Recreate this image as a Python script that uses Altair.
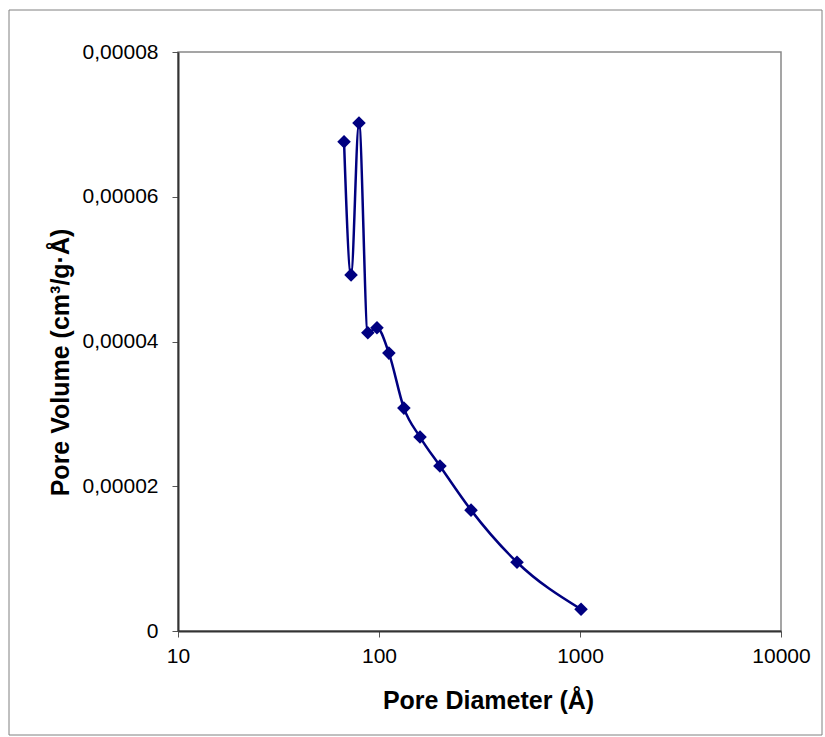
import altair as alt
import pandas as pd

# Pore size distribution data
pore_diameter = [67.0, 72.6, 79.5, 88.0, 97.7, 112.0, 133.0, 160.0, 201.0, 287.0, 486.0, 1012.0]
pore_volume = [6.76e-5, 4.92e-5, 7.02e-5, 4.12e-5, 4.19e-5, 3.84e-5, 3.08e-5, 2.68e-5,
               2.28e-5, 1.67e-5, 0.95e-5, 0.30e-5]

x_ticks = [10, 100, 1000, 10000]
y_ticks = [0, 0.00002, 0.00004, 0.00006, 0.00008]

df = pd.DataFrame({"d": pore_diameter, "v": pore_volume})

NAVY = "#000080"
FONT = "Liberation Sans"

x_enc = alt.X(
    "d:Q",
    scale=alt.Scale(type="log", domain=[10, 10000], nice=False),
    axis=alt.Axis(
        values=x_ticks,
        labelExpr="format(datum.value, 'd')",
        title="Pore Diameter (Å)",
        titleX=310, titleY=69, titleBaseline="middle", titleAlign="center",
        titleFontSize=25, titleFontWeight="bold", titleFont=FONT, titleColor="#000000",
        labelFont=FONT, labelFontSize=21, labelColor="#000000", labelPadding=8,
        tickSize=6, tickColor="#555555", domainColor="#333333", domainWidth=2,
        grid=False, labelFlush=False,
    ),
)
y_enc = alt.Y(
    "v:Q",
    scale=alt.Scale(domain=[0, 0.00008], nice=False),
    axis=alt.Axis(
        values=y_ticks,
        labelExpr="datum.value == 0 ? '0' : replace(format(datum.value, '.5f'), '.', ',')",
        title="Pore Volume (cm³/g·Å)",
        titleX=-118, titleY=310, titleBaseline="middle", titleAlign="center", titleAngle=-90,
        titleFontSize=25, titleFontWeight="bold", titleFont=FONT, titleColor="#000000",
        labelFont=FONT, labelFontSize=21, labelColor="#000000", labelPadding=14,
        tickSize=6, tickColor="#555555", domainColor="#333333", domainWidth=2,
        grid=False, labelFlush=False,
    ),
)

line = alt.Chart(df).mark_line(color=NAVY, strokeWidth=2.5, interpolate="monotone").encode(
    x=x_enc, y=y_enc
)
points = alt.Chart(df).mark_point(
    shape="diamond", filled=True, color=NAVY, size=185, opacity=1
).encode(x="d:Q", y="v:Q")

frame = alt.Chart(pd.DataFrame({"k": [0]})).mark_rect(
    fill=None, stroke="#808080", strokeWidth=1
).encode(
    x=alt.value(-169), x2=alt.value(644), y=alt.value(-42), y2=alt.value(683)
)

chart = alt.layer(frame, line, points).properties(
    width=603,
    height=579,
    autosize=alt.AutoSizeParams(type="none"),
    padding={"left": 178, "top": 52, "right": 44, "bottom": 106},
    background="white",
).configure_view(
    stroke="#888888", strokeWidth=1.5
)

chart.save("out.html", embed_options={"renderer": "svg", "actions": False})
